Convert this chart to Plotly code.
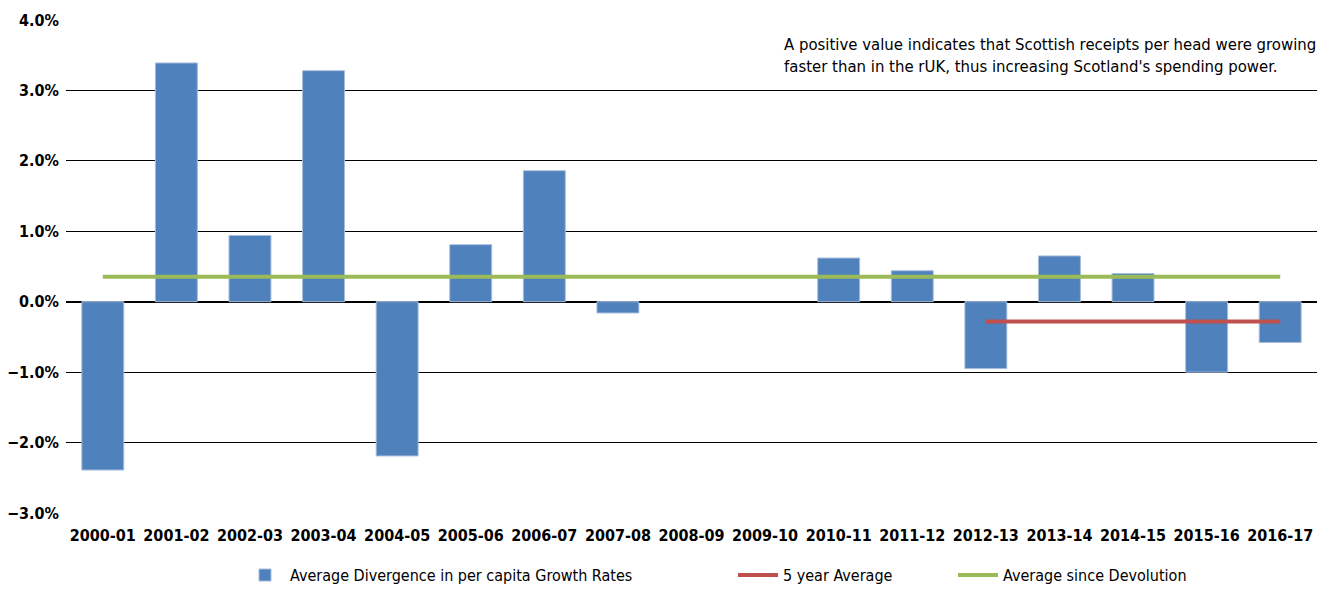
import plotly.graph_objects as go

categories = ["2000-01", "2001-02", "2002-03", "2003-04", "2004-05", "2005-06",
              "2006-07", "2007-08", "2008-09", "2009-10", "2010-11", "2011-12",
              "2012-13", "2013-14", "2014-15", "2015-16", "2016-17"]
divergence = [-2.39, 3.39, 0.94, 3.28, -2.19, 0.81, 1.86, -0.16, None, None,
              0.62, 0.44, -0.95, 0.65, 0.40, -1.00, -0.58]
five_year_cats = ["2012-13", "2013-14", "2014-15", "2015-16", "2016-17"]
five_year_avg = [-0.28] * 5
devolution_avg = [0.355] * len(categories)

FONT = "DejaVu Sans Condensed, Liberation Sans Narrow, Arial Narrow, sans-serif"

fig = go.Figure()
fig.add_trace(go.Bar(
    x=categories, y=divergence,
    name="Average Divergence in per capita Growth Rates",
    marker=dict(color="#4F81BD", line=dict(color="#A7BEDD", width=1)),
    legend="legend", showlegend=True,
))
fig.add_trace(go.Scatter(
    x=five_year_cats, y=five_year_avg, mode="lines",
    name="5 year Average",
    line=dict(color="#C0504D", width=4),
    legend="legend2", showlegend=True,
))
fig.add_trace(go.Scatter(
    x=categories, y=devolution_avg, mode="lines",
    name="Average since Devolution",
    line=dict(color="#9BBB59", width=4),
    legend="legend3", showlegend=True,
))

W = 1251.0
def px(x):
    return (x - 66) / W

legend_common = dict(
    orientation="h", yanchor="middle", y=-0.126, xanchor="left",
    font=dict(family=FONT, size=16, color="#000000"),
    bgcolor="rgba(0,0,0,0)", itemwidth=40,
)

fig.update_layout(
    width=1319, height=582,
    margin=dict(l=58, r=10, t=12, b=77, autoexpand=False),
    paper_bgcolor="white", plot_bgcolor="white",
    showlegend=True,
    bargap=0.43,
    font=dict(family=FONT, size=16, color="#000000"),
    xaxis=dict(
        type="category", tickfont=dict(family=FONT, size=16, color="#000000", weight="bold"),
        showgrid=False, showline=False, ticks="", ticklabelstandoff=11,
        automargin=False,
    ),
    yaxis=dict(
        range=[-3, 4], dtick=1, tickformat=".1f", ticksuffix="%",
        tickfont=dict(family=FONT, size=16, color="#000000", weight="bold"),
        showgrid=True, gridcolor="#000000", gridwidth=1,
        zeroline=True, zerolinecolor="#000000", zerolinewidth=1.5,
        showline=False, ticks="", ticklabelstandoff=6,
        automargin=False,
    ),
    legend=dict(**legend_common, x=px(240)),
    legend2=dict(**legend_common, x=px(733)),
    legend3=dict(**legend_common, x=px(953)),
    annotations=[dict(
        x=1, xref="paper", xanchor="right", y=1, yref="paper", yanchor="top",
        text="A positive value indicates that Scottish receipts per head were growing<br>faster than in the rUK, thus increasing Scotland's spending power.",
        showarrow=False, align="left",
        font=dict(family=FONT, size=16.6, color="#000000"),
        xshift=1, yshift=-13,
    )],
)

fig.write_html("out.html")
